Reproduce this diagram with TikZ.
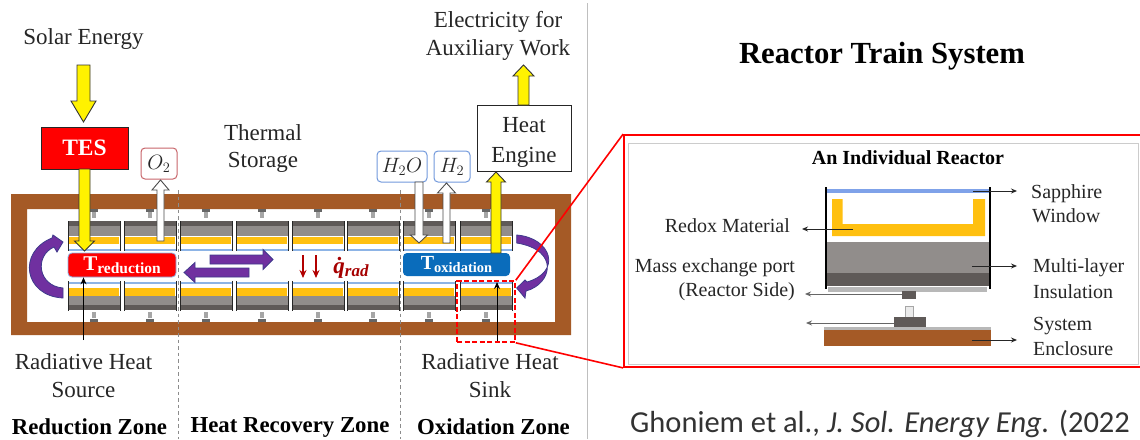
\documentclass[tikz,border=0pt]{standalone}
\usepackage{amsmath}
\usepackage{fontspec}
\setmainfont{Liberation Serif}
\newfontfamily\calib{Carlito}
\usetikzlibrary{calc,arrows.meta}
\definecolor{brownf}{HTML}{A55A26}
\definecolor{goldy}{HTML}{FFC010}
\definecolor{grayA}{HTML}{918D8B}
\definecolor{grayB}{HTML}{5F5A58}
\definecolor{blueW}{HTML}{8DB4E6}
\definecolor{purp}{HTML}{7030A0}
\definecolor{purpE}{HTML}{3F3A8C}
\definecolor{txt}{HTML}{262626}
\definecolor{o2e}{HTML}{C8656A}
\definecolor{h2e}{HTML}{7299DC}
\definecolor{tblue}{HTML}{0A6CBB}
\newcommand{\fs}[1]{\fontsize{#1}{#1}\selectfont}
% style, from, to, shaft half, head half, head length
\newcommand{\blockarrow}[6]{%
  \coordinate (ba) at ($(#3)!#6!(#2)$);
  \draw[#1] ($(#2)!#4!90:(#3)$) -- ($(ba)!#4!90:(#3)$) -- ($(ba)!#5!90:(#3)$) -- (#3)
    -- ($(ba)!#5!-90:(#3)$) -- ($(ba)!#4!-90:(#3)$) -- ($(#2)!#4!-90:(#3)$) -- cycle;}
\tikzset{
  lbl/.style={text=txt,align=center,inner sep=0pt,font=\fs{23}},
  inlbl/.style={text=txt,inner sep=0pt,font=\fs{20}},
  zone/.style={text=black,inner sep=0pt,font=\fs{22.8}\bfseries},
  yellowarr/.style={fill=yellow,draw=black!80,line width=0.9pt},
  whitearr/.style={fill=white,draw=black!70,line width=0.9pt},
  purparr/.style={fill=purp,draw=purpE,line width=0.8pt},
  gasbox/.style={draw,fill=white,rounded corners=4pt,line width=1pt,inner sep=0pt,text=txt,font=\fs{21}},
  thinarr/.style={draw=black,line width=1pt,-{Stealth[length=7pt,width=6pt]}},
  callarr/.style={draw=black!85,line width=0.9pt,-{Stealth[length=6pt,width=5pt]}},
  redarr/.style={draw=red!70!black,line width=1.8pt,-{Stealth[length=8pt,width=7pt]}},
  zoneline/.style={draw=black!45,line width=0.9pt,dash pattern=on 3.5pt off 3pt},
  redline/.style={draw=red,line width=1.6pt},
}
\begin{document}
\begin{tikzpicture}[x=1pt,y=-1pt]
\useasboundingbox (0,0) rectangle (1140,439);
\fill[white] (0,0) rectangle (1140,439);

% separator
\draw[black!25,line width=1pt] (587.5,3) -- (587.5,439);

% enclosure
\fill[brownf,even odd rule] (11,194) rectangle (571,335) (27,209) rectangle (555,322);

% reactors
\foreach \x in {68,124,180,236,292,347,403,460}{
  % top row
  \fill[grayB] (\x,221) rectangle ++(52,5);
  \fill[grayA] (\x,226) rectangle ++(52,10);
  \fill[goldy] (\x+1,237) rectangle ++(50,7);
  \fill[blueW] (\x,248.5) rectangle ++(52,2);
  \draw[black!85,line width=1pt] (\x,221) -- ++(0,30) (\x+52,221) -- ++(0,30);
  \fill[black!60] (\x+22,209) rectangle ++(8,3);
  \fill[black!35] (\x+24,212) rectangle ++(4,6);
  % bottom row
  \fill[blueW] (\x,281.5) rectangle ++(52,2);
  \fill[goldy] (\x+1,288) rectangle ++(50,8);
  \fill[grayA] (\x,296) rectangle ++(52,9);
  \fill[grayB] (\x,305) rectangle ++(52,5);
  \draw[black!85,line width=1pt] (\x,281) -- ++(0,30) (\x+52,281) -- ++(0,30);
  \fill[black!35] (\x+24,312) rectangle ++(4,6);
  \fill[black!60] (\x+22,319) rectangle ++(8,3);
}

% zone lines
\draw[zoneline] (178,190) -- (178,439);
\draw[zoneline] (400,190) -- (400,439);

% temperature blocks
\node[draw=blueW,line width=0.8pt,fill=red,rounded corners=4pt,minimum width=108pt,minimum height=24pt,inner sep=0pt,text=white] (tred) at (122,265)
  {\bfseries\fs{21}T\raisebox{-2.5pt}{\fs{15.5}reduction}};
\node[fill=tblue,rounded corners=4pt,minimum width=107pt,minimum height=23pt,inner sep=0pt,text=white] (tox) at (456.5,264.5)
  {\bfseries\fs{20}T\raisebox{-2.5pt}{\fs{14.5}oxidation}};

% boxes
\node[draw=black!85,line width=1pt,fill=red,minimum width=87pt,minimum height=42pt,inner sep=0pt,text=white,font=\fs{23.5}\bfseries] (tes) at (84.5,148) {\raisebox{-1pt}{TES}};
\node[draw=black!85,line width=1pt,fill=white,minimum width=94pt,minimum height=66pt,inner sep=0pt,text=txt,font=\fs{23}] (engine) at (524,138) {};
\node[text=txt,align=center,inner sep=0pt,font=\fs{23}] (enginetxt) at (524,142) {Heat\\[7pt]Engine};
\node[gasbox,draw=o2e,minimum width=36pt,minimum height=31pt] (o2) at (159,163.5) {$O_2$};
\node[gasbox,draw=h2e,minimum width=50pt,minimum height=31pt] (h2o) at (402,166.5) {$H_2O$};
\node[gasbox,draw=h2e,minimum width=36pt,minimum height=31pt] (h2) at (452,166.5) {$H_2$};

% labels, left panel
\node[lbl] (solar) at (83.5,39) {Solar Energy};
\node[lbl] (elec) at (498,36) {Electricity for\\[5pt]Auxiliary Work};
\node[lbl] (tstore) at (263,149) {Thermal\\[4pt]Storage};
\node[lbl] (hsrc) at (83.5,375.5) {Radiative Heat\\[5pt]Source};
\node[lbl] (hsink) at (490,375.5) {Radiative Heat\\[5pt]Sink};
\node[zone] (zr) at (89.5,427) {Reduction Zone};
\node[zone] (zh) at (290,427) {Heat Recovery Zone};
\node[zone] (zo) at (493.5,427) {Oxidation Zone};

% block arrows
\coordinate (sa) at (83.5,65); \coordinate (sb) at (83.5,122);
\blockarrow{yellowarr}{sa}{sb}{6.5pt}{12.5pt}{21pt}
\coordinate (ta) at (84.5,169); \coordinate (tb) at (84.5,251);
\blockarrow{yellowarr}{ta}{tb}{5.5pt}{10pt}{10pt}
\coordinate (oa) at (160.5,241);
\coordinate (ob) at (160.5,180);
\blockarrow{whitearr}{oa}{ob}{3.5pt}{8.5pt}{10pt}
\coordinate (wa) at (419,182); \coordinate (wb) at (419,243);
\blockarrow{whitearr}{wa}{wb}{4pt}{8.5pt}{8pt}
\coordinate (ha) at (446.5,243); \coordinate (hb) at (446.5,183);
\blockarrow{whitearr}{ha}{hb}{3.5pt}{9pt}{10pt}
\coordinate (ea) at (496,253); \coordinate (eb) at (496,172);
\blockarrow{yellowarr}{ea}{eb}{5pt}{9.5pt}{10pt}
\coordinate (xa) at (523.5,105); \coordinate (xb) at (523.5,65);
\blockarrow{yellowarr}{xa}{xb}{5.5pt}{10.5pt}{11pt}
\coordinate (pa) at (210,259.5); \coordinate (pb) at (273,259.5);
\blockarrow{purparr}{pa}{pb}{4.5pt}{10pt}{10pt}
\coordinate (qa) at (249,272.5); \coordinate (qb) at (184,272.5);
\blockarrow{purparr}{qa}{qb}{4.5pt}{10pt}{11pt}

% curved arrows
\draw[purparr] (63,298) .. controls (24,296) and (17,252) .. (52,238) -- (53,235) -- (63,242) -- (57,252) -- (54,247)
  .. controls (34,256) and (38,286) .. (63,288) -- cycle;
\draw[purparr] (516.7,235) .. controls (552,238) and (562,272) .. (527,282) -- (525,280) -- (516.7,288) -- (525,298) -- (526,291)
  .. controls (552,284) and (560,250) .. (516.7,243) -- cycle;

% red heat arrows
\coordinate (r1) at (303,255); \coordinate (r1b) at (303,278);
\coordinate (r2) at (316,255); \coordinate (r2b) at (316,278);
\draw[redarr] (r1) -- (r1b);
\draw[redarr] (r2) -- (r2b);
\node[inner sep=0pt,text=red!65!black,font=\fs{23}\bfseries\itshape] (qrad) at (351,268) {\.{q}\raisebox{-3pt}{\fs{17}rad}};

% thin arrows
\coordinate (la) at (83.5,340);
\draw[thinarr] (la) -- (la |- tred.south);
\coordinate (lb) at (497,342); \coordinate (lc) at (497,282);
\draw[thinarr] (lb) -- (lc);

% inset panel
\node[draw=red,line width=1.8pt,fill=white,minimum width=522pt,minimum height=232pt,inner sep=0pt] (inset) at (885,251) {};
\draw[black!20,line width=0.8pt] (628,143) rectangle (1138,364);

% red zoom marker
\node[draw=red,line width=1.6pt,dash pattern=on 5pt off 2.5pt,minimum width=58pt,minimum height=61pt,inner sep=0pt] (mark) at (486,311.5) {};
\draw[redline] (mark.north east) -- (inset.north west);
\draw[redline] (mark.south east) -- (inset.south west);

% individual reactor
\fill[blueW!90!blue] (826,189) rectangle (990,193);
\fill[goldy] (832,199) -- (842.7,199) -- (842.7,224) -- (973,224) -- (973,199) -- (985,199) -- (985,236) -- (832,236) -- cycle;
\fill[grayA] (826,242) rectangle (990,273);
\fill[grayB] (826,273) rectangle (990,286);
\fill[black!28] (828,287) rectangle (987,292);
\draw[black,line width=1.8pt] (826,187) -- (826,289) (990,187) -- (990,289);
\fill[grayB] (902,291) rectangle (916,299);
\draw[black!35,fill=black!8,line width=0.8pt] (905,306) rectangle (913,317);
\node[fill=grayB,minimum width=32pt,minimum height=10pt,inner sep=0pt] (port) at (910,322) {};
\fill[black!28] (824,327) rectangle (991,330);
\fill[brownf] (824,330) rectangle (991,346);

% inset texts
\node[inner sep=0pt,text=black,font=\fs{20}\bfseries] (indiv) at (908,158) {An Individual Reactor};
\node[inlbl,anchor=west] (sapph) at (1031,193.5) {Sapphire};
\node[inlbl,anchor=west] (wind) at (1032,216) {Window};
\node[inlbl,anchor=west] (multi) at (1033,268) {Multi-layer};
\node[inlbl,anchor=west] (insul) at (1033,292) {Insulation};
\node[inlbl,anchor=west] (syst) at (1033,326.5) {System};
\node[inlbl,anchor=west] (encl) at (1033,349) {Enclosure};
\node[inlbl,anchor=east] (redox) at (790,226) {Redox Material};
\node[inlbl,anchor=east] (mass) at (795,268) {Mass exchange port};
\node[inlbl,anchor=east] (rside) at (795,292) {(Reactor Side)};

\coordinate (c1a) at (973,191); \coordinate (c1b) at (1017,191);
\draw[callarr] (c1a) -- (c1b);
\coordinate (c2a) at (853,229); \coordinate (c2b) at (802,229);
\draw[callarr] (c2a) -- (c2b);
\coordinate (c3a) at (902,294); \coordinate (c3b) at (805,294);
\draw[callarr,draw=black!60] (c3a) -- (c3b);
\coordinate (c4b) at (806,323);
\draw[callarr,draw=black!60] (port.west |- c4b) -- (c4b);
\coordinate (c5a) at (972,266); \coordinate (c5b) at (1017,266);
\draw[callarr] (c5a) -- (c5b);
\coordinate (c6a) at (972,340); \coordinate (c6b) at (1017,340);
\draw[callarr] (c6a) -- (c6b);

% titles
\node[inner sep=0pt,text=black,font=\fs{30.7}\bfseries] (title) at (882,56) {Reactor Train System};
\node[anchor=west,inner sep=0pt,text=black!80,font=\calib\fs{30.5}] (cite) at (630,423.5) {Ghoniem et al., \textit{J. Sol. Energy Eng.} (2022};
\end{tikzpicture}
\end{document}
